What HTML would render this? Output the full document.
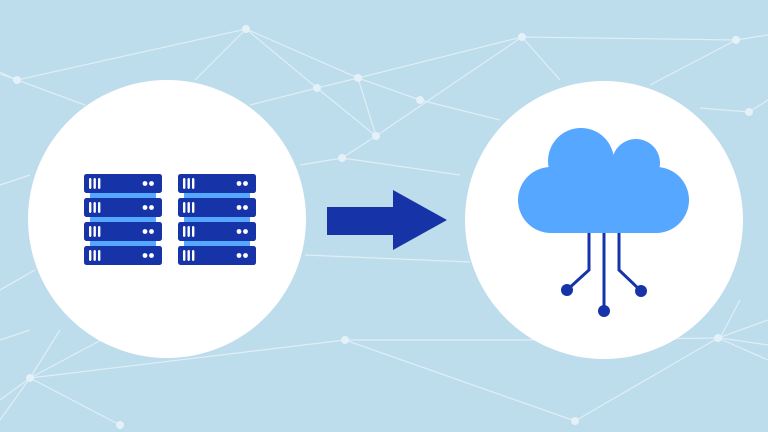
<!DOCTYPE html>
<html><head><style>html,body{margin:0;padding:0;background:#bcdcec;}svg{display:block}</style></head>
<body>
<svg width="768" height="432" viewBox="0 0 768 432" xmlns="http://www.w3.org/2000/svg">
<rect width="768" height="432" fill="#bddcec"/>
<g stroke="#e4f1f8" stroke-width="1.2" fill="none" opacity="0.9">
<polyline points="0,74 17,80 246,29 317,88 358,78 522,37 736,40 768,35"/>
<polyline points="0,72 17,80 85,105"/>
<polyline points="246,29 195,80"/>
<polyline points="246,29 358,78 376,136 342,158 300,165"/>
<polyline points="250,105 317,88 376,136 522,37"/>
<polyline points="522,37 560,80"/>
<polyline points="358,78 420,100 500,120"/>
<polyline points="342,158 460,175"/>
<polyline points="736,40 650,85"/>
<polyline points="700,108 749,112 768,100"/>
<polyline points="0,185 30,175"/>
<polyline points="0,290 35,270"/>
<polyline points="305,255 470,262"/>
<polyline points="0,340 30,330"/>
<polyline points="30,378 345,340 575,421 718,338 768,320"/>
<polyline points="0,420 30,378 120,425"/>
<polyline points="345,340 520,340 720,338 768,345"/>
<polyline points="0,400 30,378 60,330"/>
<polyline points="718,338 768,360"/>
<polyline points="720,338 740,300"/>
<polyline points="30,378 120,330"/>
</g>
<g fill="#e4f1f8">
<circle cx="17" cy="80" r="4"/><circle cx="246" cy="29" r="4"/><circle cx="317" cy="88" r="4"/>
<circle cx="358" cy="78" r="4"/><circle cx="376" cy="136" r="4"/><circle cx="342" cy="158" r="4"/>
<circle cx="522" cy="37" r="4"/><circle cx="736" cy="40" r="4"/><circle cx="749" cy="112" r="4"/>
<circle cx="420" cy="100" r="4"/><circle cx="718" cy="338" r="4"/><circle cx="575" cy="421" r="4"/>
<circle cx="30" cy="378" r="4"/><circle cx="120" cy="425" r="4"/><circle cx="345" cy="340" r="4"/>
</g>
<circle cx="167" cy="219" r="139" fill="#fff"/>
<circle cx="604" cy="220" r="139" fill="#fff"/>
<defs>
<g id="row">
<rect x="0" y="0" width="78" height="19" rx="2.5" fill="#1634a8"/>
<rect x="5" y="4" width="2.4" height="11" rx="1.2" fill="#fff"/>
<rect x="9.5" y="4" width="2.4" height="11" rx="1.2" fill="#fff"/>
<rect x="14" y="4" width="2.4" height="11" rx="1.2" fill="#fff"/>
<circle cx="61" cy="9.5" r="2.4" fill="#fff"/>
<circle cx="67.5" cy="9.5" r="2.4" fill="#fff"/>
</g>
<g id="stack">
<rect x="6" y="10" width="66" height="80" fill="#55a7ff"/>
<use href="#row" y="0"/><use href="#row" y="24"/><use href="#row" y="48"/><use href="#row" y="72"/>
</g>
</defs>
<use href="#stack" x="84" y="174"/>
<use href="#stack" x="178" y="174"/>
<polygon points="327,207 393,207 393,190 447,220 393,250 393,235 327,235" fill="#1634a8"/>
<g fill="#55a7ff">
<circle cx="581" cy="161" r="33"/>
<circle cx="636" cy="163" r="24"/>
<rect x="518" y="167" width="171" height="66" rx="33"/>
</g>
<g stroke="#1634a8" stroke-width="3" fill="none">
<polyline points="589,233 589,270 567,290"/>
<polyline points="604,233 604,310"/>
<polyline points="619,233 619,270 641,291"/>
</g>
<g fill="#1634a8">
<circle cx="567" cy="290" r="6"/><circle cx="604" cy="311" r="6"/><circle cx="641" cy="291" r="6"/>
</g>
</svg>
</body></html>
